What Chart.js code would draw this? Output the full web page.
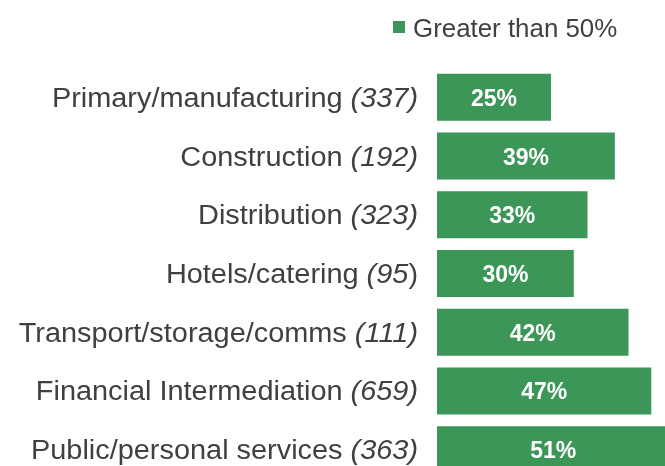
<!DOCTYPE html>
<html>
<head>
<meta charset="utf-8">
<script src="https://cdn.jsdelivr.net/npm/chart.js@4"></script>
<style>
  html, body { margin: 0; padding: 0; background: #fff; overflow: hidden; }
  #wrap { position: relative; width: 665px; height: 480px; }
</style>
</head>
<body>
<div id="wrap"><canvas id="chart"></canvas></div>
<script>
// data
const sectors = ["Primary/manufacturing", "Construction", "Distribution", "Hotels/catering",
  "Transport/storage/comms", "Financial Intermediation", "Public/personal services"];
const counts = ["337", "192", "323", "95", "111", "659", "363"];
const shares = [25, 39, 33, 30, 42, 47, 51];
const seriesName = "Greater than 50%";

const green = "#3b9657";
const textGrey = "#404040";
const fontFam = "'Liberation Sans', Arial, sans-serif";
const stretch = 1.07; // original text is a bit wider than Arial

// draw a text piece stretched horizontally, returns its width
function putText(ctx, txt, x, y, sx) {
  ctx.save();
  ctx.translate(x, y);
  ctx.scale(sx, 1);
  ctx.fillText(txt, 0, 0);
  ctx.restore();
  return ctx.measureText(txt).width * sx;
}

// labels at the left: name upright, count in italics
const labelPlugin = {
  id: "sideLabels",
  afterDraw(chart) {
    const ctx = chart.ctx;
    const y = chart.scales.y;
    const right = 418;
    const up = "27px " + fontFam;
    const it = "italic 27px " + fontFam;
    ctx.save();
    ctx.fillStyle = textGrey;
    ctx.textBaseline = "alphabetic";
    ctx.textAlign = "left";
    sectors.forEach((name, i) => {
      const cy = y.getPixelForValue(i) + 9.5;
      // hotels row has an upright closing bracket in the original
      const openPart = i === 3 ? "(" + counts[i] : "(" + counts[i] + ")";
      const closePart = i === 3 ? ")" : "";
      ctx.font = up;
      const wClose = ctx.measureText(closePart).width * stretch;
      const wName = ctx.measureText(name + " ").width * stretch;
      ctx.font = it;
      const wOpen = ctx.measureText(openPart).width * stretch;
      let x = right - wClose - wOpen - wName;
      ctx.font = up;
      x += putText(ctx, name + " ", x, cy, stretch);
      ctx.font = it;
      x += putText(ctx, openPart, x, cy, stretch);
      if (closePart) {
        ctx.font = up;
        putText(ctx, closePart, x, cy, stretch);
      }
    });

    // values inside the bars
    const meta = chart.getDatasetMeta(0);
    ctx.fillStyle = "#fff";
    ctx.textAlign = "center";
    ctx.font = "bold 23px " + fontFam;
    meta.data.forEach((bar, i) => {
      const cx = (bar.x + bar.base) / 2;
      ctx.fillText(shares[i] + "%", cx, bar.y + 8.5);
    });

    // legend
    ctx.fillStyle = green;
    ctx.fillRect(393, 21, 12, 12);
    ctx.fillStyle = textGrey;
    ctx.textAlign = "left";
    ctx.font = "25px " + fontFam;
    putText(ctx, seriesName, 413, 37, 1.035);
    ctx.restore();
  }
};

new Chart(document.getElementById("chart"), {
  type: "bar",
  data: {
    labels: sectors,
    datasets: [{
      label: seriesName,
      data: shares,
      backgroundColor: green,
      borderWidth: 0,
      categoryPercentage: 1,
      barPercentage: 0.8
    }]
  },
  options: {
    indexAxis: "y",
    responsive: true,
    maintainAspectRatio: false,
    animation: false,
    layout: { padding: { left: 437, right: 0, top: 68, bottom: 1 } },
    scales: {
      x: { display: false, min: 0, max: 50 },
      y: { display: false }
    },
    plugins: {
      legend: { display: false },
      tooltip: { enabled: false }
    }
  },
  plugins: [labelPlugin]
});
</script>
</body>
</html>
